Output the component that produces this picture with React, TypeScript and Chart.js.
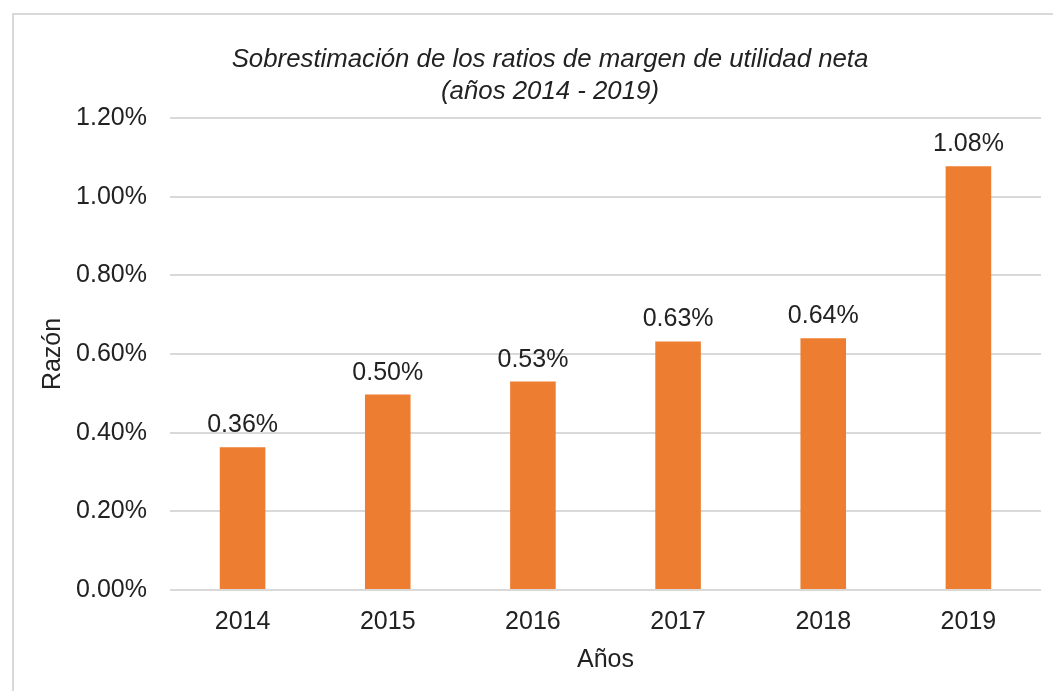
import React, { useEffect, useRef } from "react";
import { Chart, registerables } from "chart.js";

Chart.register(...registerables);

const years = ["2014", "2015", "2016", "2017", "2018", "2019"];
const ratios = [0.363, 0.497, 0.53, 0.632, 0.64, 1.077];
const titleLines = [
  "Sobrestimación de los ratios de margen de utilidad neta",
  "(años 2014 - 2019)",
];
const xTitle = "Años";
const yTitle = "Razón";

const FONT = "'Liberation Sans', Arial, sans-serif";
const TEXT = "#222222";
const FS = 25;

const valueLabels = {
  id: "valueLabels",
  afterDatasetsDraw(chart: any) {
    const ctx = chart.ctx;
    const meta = chart.getDatasetMeta(0);
    ctx.save();
    ctx.font = `${FS}px ${FONT}`;
    ctx.fillStyle = TEXT;
    ctx.textAlign = "center";
    ctx.textBaseline = "alphabetic";
    meta.data.forEach((bar: any, i: number) => {
      const v = chart.data.datasets[0].data[i] as number;
      ctx.fillText(v.toFixed(2) + "%", bar.x, bar.y - 15);
    });
    ctx.restore();
  },
};

export default function App() {
  const ref = useRef<HTMLCanvasElement | null>(null);

  useEffect(() => {
    if (!ref.current) return;
    const chart = new Chart(ref.current, {
      type: "bar",
      data: {
        labels: years,
        datasets: [
          {
            data: ratios,
            backgroundColor: "#ED7D31",
            barPercentage: 0.314,
            categoryPercentage: 1,
          },
        ],
      },
      options: {
        animation: false,
        responsive: false,
        maintainAspectRatio: false,
        layout: { padding: { left: 59, right: 12, top: 0, bottom: 16 } },
        plugins: {
          legend: { display: false },
          tooltip: { enabled: false },
          title: {
            display: true,
            text: titleLines,
            color: TEXT,
            font: { family: FONT, size: 25.8, style: "italic", weight: "normal", lineHeight: 1.24 },
            padding: { top: 44, bottom: 10 },
          },
        },
        scales: {
          x: {
            afterFit(scale: any) {
              scale.height = 85;
            },
            grid: { display: false, drawTicks: false },
            border: { display: false },
            ticks: {
              color: TEXT,
              font: { family: FONT, size: FS },
              padding: 17,
            },
            title: {
              display: true,
              text: xTitle,
              color: TEXT,
              font: { family: FONT, size: FS },
              padding: { top: 9, bottom: 0 },
            },
          },
          y: {
            min: 0,
            max: 1.2,
            afterFit(scale: any) {
              scale.width = 111;
            },
            grid: { color: "#d9d9d9", lineWidth: 2, drawTicks: false },
            border: { display: false },
            ticks: {
              stepSize: 0.2,
              color: TEXT,
              font: { family: FONT, size: FS },
              padding: 23,
              callback: (v: any) => Number(v).toFixed(2) + "%",
            },
            title: {
              display: true,
              text: yTitle,
              color: TEXT,
              font: { family: FONT, size: FS },
              padding: { top: -21, bottom: 0 },
            },
          },
        },
      },
      plugins: [valueLabels],
    });
    return () => chart.destroy();
  }, []);

  return (
    <div
      style={{
        position: "absolute",
        left: 0,
        top: 0,
        width: 1053,
        height: 691,
        overflow: "hidden",
        background: "#ffffff",
      }}
    >
      <div
        style={{
          position: "absolute",
          left: 12,
          top: 13,
          width: 1060,
          height: 700,
          border: "2px solid #d9d9d9",
          boxSizing: "border-box",
        }}
      />
      <canvas
        ref={ref}
        width={1053}
        height={691}
        style={{ position: "absolute", left: 0, top: 0, width: 1053, height: 691 }}
      />
    </div>
  );
}
